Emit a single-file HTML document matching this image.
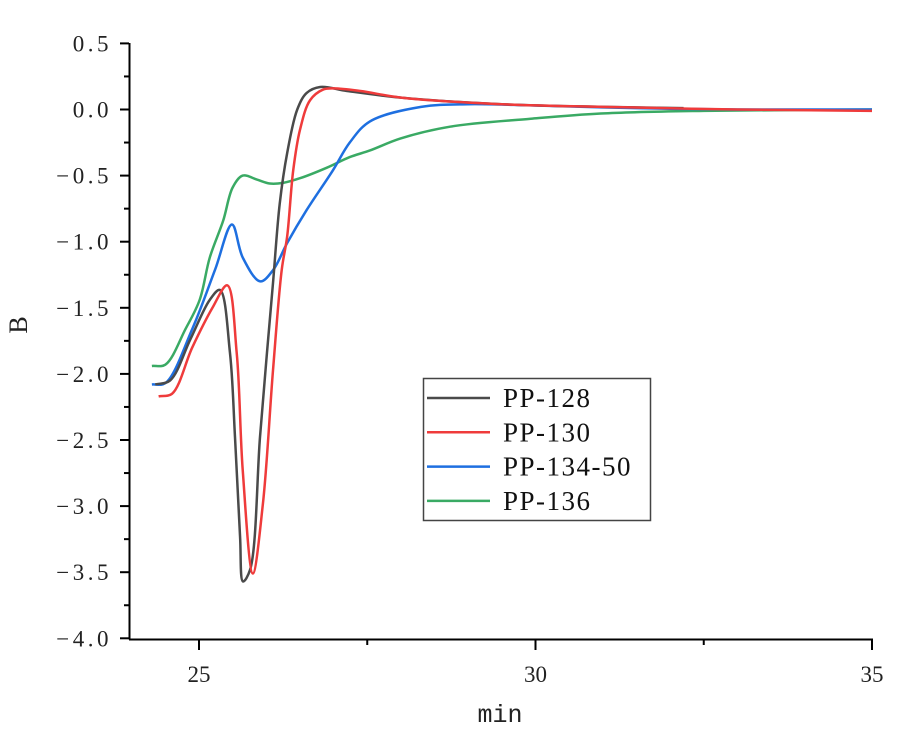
<!DOCTYPE html>
<html><head><meta charset="utf-8"><style>
body{margin:0;background:#fff;}
svg{display:block;font-family:"Liberation Serif","Noto Serif CJK SC",serif;}
</style></head><body>
<svg id="chart" width="900" height="732">
<g id="axes"></g>
<g id="series"></g>
<g id="legend"></g>
</svg>
<script>
const xTicks=[25,30,35];
const yTicks=[0.5,0,-0.5,-1,-1.5,-2,-2.5,-3,-3.5,-4];
const yTickLabels=["0.5","0.0","−0.5","−1.0","−1.5","−2.0","−2.5","−3.0","−3.5","−4.0"];
const seriesNames=["PP-128","PP-130","PP-134-50","PP-136"];
const seriesColors=["#4a4a4a","#ef3b3b","#1e6fe0","#3aaa64"];
const x128=[24.35,24.57,24.87,25.16,25.31,25.46,25.535,25.61,25.654,25.76,25.906,26.01,26.1,26.2,26.31,26.46,26.6,26.8,27.2,28,29.5,31,32.2];
const y128=[-2.08,-2.05,-1.74,-1.44,-1.365,-1.84,-2.48,-3.23,-3.57,-3.48,-2.48,-1.84,-1.31,-0.71,-0.33,0.0,0.125,0.17,0.14,0.09,0.04,0.02,0.01];
const x130=[24.4,24.6,24.9,25.2,25.42,25.56,25.65,25.8,25.95,26.1,26.23,26.31,26.4,26.5,26.65,26.84,27.0,27.4,28,29.5,31,33,35];
const y130=[-2.17,-2.15,-1.8,-1.5,-1.33,-1.84,-2.73,-3.51,-2.98,-1.97,-1.21,-0.96,-0.46,-0.155,0.07,0.15,0.16,0.14,0.09,0.04,0.02,0.0,-0.01];
const x134=[24.3,24.5,24.9,25.24,25.49,25.65,25.91,26.1,26.31,26.6,26.99,27.24,27.54,28.3,29,30,31.5,33,35];
const y134=[-2.08,-2.07,-1.66,-1.21,-0.87,-1.12,-1.3,-1.215,-1.01,-0.76,-0.46,-0.25,-0.09,0.02,0.04,0.03,0.01,0.0,0.0];
const x136=[24.3,24.5,24.8,25.01,25.16,25.36,25.5,25.65,25.86,26.05,26.25,26.5,26.9,27.24,27.54,27.99,28.73,29.93,30.97,32.5,35];
const y136=[-1.94,-1.93,-1.66,-1.44,-1.12,-0.84,-0.59,-0.5,-0.53,-0.56,-0.555,-0.52,-0.44,-0.36,-0.31,-0.22,-0.13,-0.07,-0.03,-0.01,0.0];
const xs=[x128,x130,x134,x136], ys=[y128,y130,y134,y136];

const NS="http://www.w3.org/2000/svg";
const X=v=>199+(v-25)*67.3;
const Y=v=>109.5-v*132.2;
function mk(tag,attrs,parent,text){const e=document.createElementNS(NS,tag);for(const k in attrs)e.setAttribute(k,attrs[k]);if(text!==undefined)e.textContent=text;parent.appendChild(e);return e;}
const axes=document.getElementById('axes');
let e;
e=mk('line',{x1:129.5,y1:43,x2:129.5,y2:639.5,stroke:'#000','stroke-width':2},axes);


e=mk('line',{x1:129,y1:639.5,x2:873,y2:639.5,stroke:'#000','stroke-width':2},axes);


yTicks.forEach((t,i)=>{
  const y=Y(t);
  e=mk('line',{x1:120,y1:y,x2:129,y2:y,stroke:'#000','stroke-width':2},axes);
  
  
  if(i<yTicks.length-1){
    e=mk('line',{x1:124,y1:Y(t-0.25),x2:129,y2:Y(t-0.25),stroke:'#000','stroke-width':2},axes);
    
    
  }
  e=mk('text',{x:112,y:y+8,'text-anchor':'end','font-size':23,'letter-spacing':3.5,fill:'#222'},axes,yTickLabels[i]);
  
  
});
xTicks.forEach((t,i)=>{
  const x=X(t);
  e=mk('line',{x1:x,y1:640,x2:x,y2:650,stroke:'#000','stroke-width':2},axes);
  
  
  e=mk('text',{x:x,y:682,'text-anchor':'middle','font-size':23,fill:'#222'},axes,String(t));
  
  
});
[27.5,32.5].forEach(t=>{
  e=mk('line',{x1:X(t),y1:640,x2:X(t),y2:645,stroke:'#000','stroke-width':2},axes);
  
  
});
e=mk('text',{x:500,y:722,'text-anchor':'middle','font-size':25,'font-family':'Liberation Mono, monospace',fill:'#222'},axes,'min');


e=mk('text',{x:0,y:0,'text-anchor':'middle','font-size':26,fill:'#222',transform:'translate(27,325) rotate(-90)'},axes,'B');



// centripetal Catmull-Rom in pixel space
function pathFrom(px,py){
  const p=px.map((v,i)=>[X(v),Y(py[i])]);
  const n=p.length;
  let s='M'+p[0][0]+','+p[0][1];
  const dist=(a,b)=>Math.pow(Math.hypot(b[0]-a[0],b[1]-a[1]),0.5)||1e-6;
  for(let i=0;i<n-1;i++){
    const p0=p[i-1]||[2*p[i][0]-p[i+1][0],2*p[i][1]-p[i+1][1]];
    const p1=p[i],p2=p[i+1];
    const p3=p[i+2]||[2*p2[0]-p1[0],2*p2[1]-p1[1]];
    const d1=dist(p0,p1),d2=dist(p1,p2),d3=dist(p2,p3);
    const c1=[],c2=[];
    for(let k=0;k<2;k++){
      c1[k]=(d1*d1*p2[k]-d2*d2*p0[k]+(2*d1*d1+3*d1*d2+d2*d2)*p1[k])/(3*d1*(d1+d2));
      c2[k]=(d3*d3*p1[k]-d2*d2*p3[k]+(2*d3*d3+3*d3*d2+d2*d2)*p2[k])/(3*d3*(d3+d2));
    }
    s+=` C${c1[0]},${c1[1]} ${c2[0]},${c2[1]} ${p2[0]},${p2[1]}`;
  }
  return s;
}
const sg=document.getElementById('series');
const order=[3,2,0,1];
order.forEach(i=>{
  e=mk('path',{d:pathFrom(xs[i],ys[i]),fill:'none',stroke:seriesColors[i],'stroke-width':2.5,'stroke-linejoin':'round'},sg);
  
  
});
const lg=document.getElementById('legend');
e=mk('rect',{x:423.5,y:378.5,width:227,height:142,fill:'#fff',stroke:'#444','stroke-width':1.5},lg);


seriesNames.forEach((n,i)=>{
  const y=398+i*34.3;
  e=mk('line',{x1:427,y1:y,x2:490,y2:y,stroke:seriesColors[i],'stroke-width':2.5},lg);
  
  
  e=mk('text',{x:503,y:y+9,'font-size':27,'letter-spacing':1.5,fill:'#111'},lg,n);
  
  
});
</script>
</body></html>
